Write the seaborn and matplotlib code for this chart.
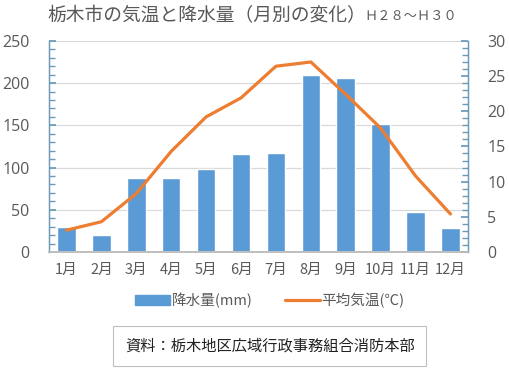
import numpy as np
import pandas as pd
import matplotlib
matplotlib.use("Agg")
import matplotlib.pyplot as plt
from matplotlib.ticker import MultipleLocator
import seaborn as sns

# data
months = ["1月", "2月", "3月", "4月", "5月", "6月", "7月", "8月", "9月", "10月", "11月", "12月"]
rain_mm = [30, 20, 88, 88, 98, 116, 117, 210, 206, 152, 47, 28]
temp_c = [3.1, 4.3, 8.3, 14.3, 19.2, 21.9, 26.4, 27.0, 22.4, 17.6, 10.8, 5.4]

bar_color = "#5B9BD5"
line_color = "#ED7D31"
text_color = "#595959"
spine_color = "#6A9AB8"

sns.set_theme(style="white")
plt.rcParams["font.family"] = ["Noto Sans CJK JP", "DejaVu Sans"]

df = pd.DataFrame({"month": months, "rain": rain_mm, "temp": temp_c})

fig = plt.figure(figsize=(5.09, 3.75), dpi=100)
ax = fig.add_axes([0.0963, 0.328, 0.823, 0.563])

sns.barplot(data=df, x="month", y="rain", color=bar_color, saturation=1,
            width=0.53, ax=ax, zorder=2)
ax.set_ylim(0, 250)
ax.set_xlim(-0.5, 11.5)
ax.yaxis.set_major_locator(MultipleLocator(50))
ax.yaxis.set_minor_locator(MultipleLocator(10))
ax.grid(axis="y", color="#D9D9D9", linewidth=0.9, zorder=0)
ax.set_axisbelow(True)
ax.set_xlabel("")
ax.set_ylabel("")

ax2 = ax.twinx()
sns.lineplot(x=np.arange(len(months)), y=df["temp"], color=line_color,
             linewidth=2.3, ax=ax2, zorder=3)
ax2.set_ylim(0, 30)
ax2.yaxis.set_major_locator(MultipleLocator(5))
ax2.yaxis.set_minor_locator(MultipleLocator(1))
ax2.set_ylabel("")

for a in (ax, ax2):
    a.spines["top"].set_visible(False)
    a.spines["left"].set_color(spine_color)
    a.spines["right"].set_color(spine_color)
    a.spines["bottom"].set_color("#BFBFBF")
    a.spines["left"].set_linewidth(0.9)
    a.spines["right"].set_linewidth(0.9)

ax.tick_params(axis="y", which="major", direction="in", length=5, color=spine_color,
               labelsize=11.5, labelcolor=text_color, pad=14)
ax.tick_params(axis="y", which="minor", direction="in", length=4, color=spine_color)
ax.tick_params(axis="x", length=0, labelsize=10.5, labelcolor=text_color, pad=8)
ax2.tick_params(axis="y", which="major", direction="in", length=5, color=spine_color,
                labelsize=11.5, labelcolor=text_color, pad=14)
ax2.tick_params(axis="y", which="minor", direction="in", length=4, color=spine_color)
for lbl in ax.get_yticklabels() + ax2.get_yticklabels():
    lbl.set_family(["Open Sans", "DejaVu Sans"])

# title
fig.text(0.094, 0.958, "栃木市の気温と降水量（月別の変化）", fontsize=13.5,
         color=text_color, ha="left", va="center")
fig.text(0.715, 0.955, "Ｈ２８～Ｈ３０", fontsize=9.5, color=text_color,
         ha="left", va="center")

# legend
handles = [plt.Rectangle((0, 0), 1, 1, color=bar_color),
           plt.Line2D([0], [0], color=line_color, linewidth=2.3)]
fig.legend(handles, ["降水量(mm)", "平均気温(℃)"], loc="center",
           bbox_to_anchor=(0.53, 0.198), ncol=2, frameon=False, fontsize=10.5,
           labelcolor=text_color, handlelength=2.4, handletextpad=0.1,
           columnspacing=2.2)

# source box
fig.text(0.53, 0.077, "資料：栃木地区広域行政事務組合消防本部", fontsize=11,
         color="#222222", ha="center", va="center",
         bbox=dict(boxstyle="square,pad=0.75", facecolor="white",
                   edgecolor="#BFBFBF", linewidth=0.8))

fig.savefig("out.png", dpi=100, facecolor="white")
